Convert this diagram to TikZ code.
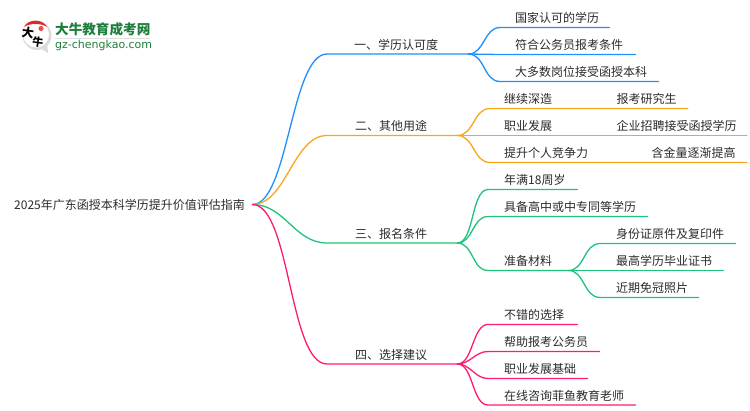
\documentclass[tikz,border=0pt]{standalone}
\usepackage{fontspec}
\setmainfont{Noto Sans CJK SC}
\newfontfamily\latinfont{DejaVu Sans}
\usepackage{xcolor}
\definecolor{textgray}{HTML}{2B2B2B}
\definecolor{lineblue}{HTML}{1E8FFF}
\definecolor{lineorange}{HTML}{F9A61A}
\definecolor{linegreen}{HTML}{1DC47B}
\definecolor{linepink}{HTML}{FF1A75}
\definecolor{logogreen}{HTML}{1E7F3C}
\definecolor{logored}{HTML}{D92B2B}
\tikzset{
  item/.style 2 args={anchor=south west, inner sep=0pt, minimum height=18pt,
    text width=#1pt, text=textgray, font=\fontsize{12}{14}\selectfont,
    execute at begin node={\hspace*{#2pt}}},
  wire/.style={line width=1.3pt, line cap=round}
}
\begin{document}
\begin{tikzpicture}[x=1pt,y=-1pt]
        \useasboundingbox (0,0) rectangle (750,410);

        % Logo
        \fill[black!14] (37,35.5) circle (14.5);
        \fill[black!14] (39,47) -- (48,53) -- (47,42) -- cycle;
        \fill[white] (36,34.5) circle (13);
        \fill[logored] (24,27) .. controls (28,18.5) and (43,18.5) .. (47,27) .. controls (42,23) and (29,23) .. cycle;
        \fill[logored!80] (41,28.5) circle (2.6);
        \node[text=black, font=\fontsize{12}{12}\selectfont\bfseries, inner sep=0pt, rotate=-8] (logoa) at (28,33) {大};
        \node[text=black, font=\fontsize{11}{11}\selectfont\bfseries, inner sep=0pt, rotate=-8] (logob) at (38,42) {牛};
        \node[anchor=west, inner sep=0pt, text=logogreen, font=\fontsize{13.6}{14}\selectfont\bfseries] (logoname) at (55,29.5) {大牛教育成考网};
        \node[anchor=west, inner sep=0pt, text=logogreen, font=\fontsize{11}{12}\latinfont] (logourl) at (55,45) {gz-chengkao.com};
        \draw[black!12, line width=1pt] (55,38.5) -- (150,38.5);

        % Root
        \node[item={238}{0}, anchor=west, minimum height=0pt] (root) at (14,204.5) {2025年广东函授本科学历提升价值评估指南};

        % Branch one
        \node[item={141}{27}] (a) at (327,54) {一、学历认可度};
        \node[item={109}{15}] (a1) at (500,27.5) {国家认可的学历};
        \node[item={135}{15}] (a2) at (500,54.5) {符合公务员报考条件};
        \node[item={158}{15}] (a3) at (500,81.5) {大多数岗位接受函授本科};
        \draw[wire, lineblue] (root.east) to[out=0,in=180,looseness=0.55] (a.south west) -- (a.south east);
        \draw[wire, lineblue] (a.south east) to[out=0,in=180] (a1.south west) -- (a1.south east);
        \draw[wire, lineblue] (a.south east) -- (a2.south west) -- (a2.south east);
        \draw[wire, lineblue] (a.south east) to[out=0,in=180] (a3.south west) -- (a3.south east);

        % Branch two
        \node[item={130}{28}] (b) at (327,135.5) {二、其他用途};
        \node[item={116}{14}] (b1) at (490,108.5) {继续深造};
        \node[item={116}{14}] (b2) at (490,135.5) {职业发展};
        \node[item={116}{14}] (b3) at (490,162.5) {提升个人竞争力};
        \node[item={81}{10}, anchor=south west] (b1x) at (b1.south east) {报考研究生};
        \node[item={140}{10}, anchor=south west] (b2x) at (b2.south east) {企业招聘接受函授学历};
        \node[item={140}{45}, anchor=south west] (b3x) at (b3.south east) {含金量逐渐提高};
        \draw[wire, lineorange] (root.east) to[out=0,in=180,looseness=0.85] (b.south west) -- (b.south east);
        \draw[wire, lineorange] (b.south east) to[out=0,in=180] (b1.south west) -- (b1x.south east);
        \draw[wire, lineorange] (b.south east) -- (b2.south west) -- (b2x.south east);
        \draw[wire, lineorange] (b.south east) to[out=0,in=180] (b3.south west) -- (b3x.south east);

        % Branch three
        \node[item={130}{28}] (c) at (327,243) {三、报名条件};
        \node[item={89}{16}] (c1) at (488,189.5) {年满18周岁};
        \node[item={159}{16}] (c2) at (488,216.5) {具备高中或中专同等学历};
        \node[item={80}{16}] (c3) at (488,270.5) {准备材料};
        \node[item={135}{16}] (c31) at (600,243.5) {身份证原件及复印件};
        \node[item={123}{16}] (c32) at (600,270.5) {最高学历毕业证书};
        \node[item={98}{16}] (c33) at (600,297.5) {近期免冠照片};
        \draw[wire, linegreen] (root.east) to[out=0,in=180] (c.south west) -- (c.south east);
        \draw[wire, linegreen] (c.south east) to[out=0,in=180,looseness=0.7] (c1.south west) -- (c1.south east);
        \draw[wire, linegreen] (c.south east) to[out=0,in=180] (c2.south west) -- (c2.south east);
        \draw[wire, linegreen] (c.south east) to[out=0,in=180] (c3.south west) -- (c3.south east);
        \draw[wire, linegreen] (c3.south east) to[out=0,in=180] (c31.south west) -- (c31.south east);
        \draw[wire, linegreen] (c3.south east) -- (c32.south west) -- (c32.south east);
        \draw[wire, linegreen] (c3.south east) to[out=0,in=180] (c33.south west) -- (c33.south east);

        % Branch four
        \node[item={130}{28}] (d) at (327,364) {四、选择建议};
        \node[item={89}{16}] (d1) at (488,324.5) {不错的选择};
        \node[item={111}{16}] (d2) at (488,351.5) {帮助报考公务员};
        \node[item={99}{16}] (d3) at (488,378.5) {职业发展基础};
        \node[item={147}{16}] (d4) at (488,405) {在线咨询菲鱼教育老师};
        \draw[wire, linepink] (root.east) to[out=0,in=180,looseness=0.55] (d.south west) -- (d.south east);
        \draw[wire, linepink] (d.south east) to[out=0,in=180,looseness=0.8] (d1.south west) -- (d1.south east);
        \draw[wire, linepink] (d.south east) to[out=0,in=180] (d2.south west) -- (d2.south east);
        \draw[wire, linepink] (d.south east) to[out=0,in=180] (d3.south west) -- (d3.south east);
        \draw[wire, linepink] (d.south east) to[out=0,in=180,looseness=0.8] (d4.south west) -- (d4.south east);
\end{tikzpicture}
\end{document}
